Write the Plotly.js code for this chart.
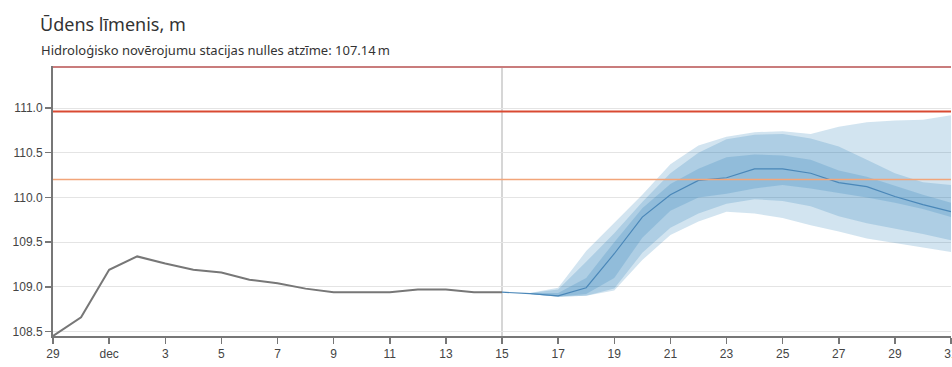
<!DOCTYPE html>
<html>
<head>
<meta charset="utf-8">
<script src="https://cdn.plot.ly/plotly-3.0.1.min.js"></script>
<style>html,body{margin:0;padding:0;background:#fff}#chart{width:952px;height:367px}</style>
</head>
<body>
<div id="chart"></div>
<script>
// Observed water level
const obsDates = ['2024-11-29','2024-11-30','2024-12-01','2024-12-02','2024-12-03','2024-12-04','2024-12-05','2024-12-06','2024-12-07','2024-12-08','2024-12-09','2024-12-10','2024-12-11','2024-12-12','2024-12-13','2024-12-14','2024-12-15'];
const obsValues = [108.45,108.66,109.19,109.34,109.26,109.19,109.16,109.08,109.04,108.98,108.94,108.94,108.94,108.97,108.97,108.94,108.94];

// Forecast median
const fcDates = ['2024-12-15','2024-12-16','2024-12-17','2024-12-18','2024-12-19','2024-12-20','2024-12-21','2024-12-22','2024-12-23','2024-12-24','2024-12-25','2024-12-26','2024-12-27','2024-12-28','2024-12-29','2024-12-30','2024-12-31'];
const fcValues = [108.94,108.925,108.90,108.99,109.37,109.78,110.03,110.19,110.22,110.32,110.32,110.27,110.165,110.12,110.01,109.92,109.84];

// Forecast uncertainty bands (from Dec 16)
const bandDates = ['2024-12-16','2024-12-17','2024-12-18','2024-12-19','2024-12-20','2024-12-21','2024-12-22','2024-12-23','2024-12-24','2024-12-25','2024-12-26','2024-12-27','2024-12-28','2024-12-29','2024-12-30','2024-12-31'];
const outerUpper = [108.93,108.99,109.40,109.72,110.03,110.37,110.58,110.68,110.73,110.74,110.71,110.79,110.84,110.86,110.87,110.92];
const outerLower = [108.92,108.89,108.90,108.96,109.30,109.58,109.73,109.84,109.82,109.77,109.69,109.62,109.54,109.49,109.44,109.39];
const midUpper   = [108.93,108.97,109.28,109.60,109.95,110.27,110.50,110.65,110.70,110.71,110.66,110.57,110.42,110.27,110.17,110.14];
const midLower   = [108.92,108.89,108.90,108.98,109.38,109.66,109.82,109.93,109.98,109.96,109.90,109.79,109.71,109.65,109.59,109.52];
const innerUpper = [108.93,108.93,109.10,109.50,109.88,110.15,110.32,110.45,110.48,110.47,110.42,110.30,110.23,110.13,110.03,109.94];
const innerLower = [108.92,108.89,108.92,109.10,109.55,109.85,110.00,110.04,110.10,110.14,110.10,110.05,110.00,109.94,109.87,109.78];

// Threshold levels
const thresholdLevels = [111.46, 110.96, 110.20];
const thresholdColors = ['#c97c7c', '#d94a32', '#f2a57a'];
const thresholdWidths = [2, 2, 1.5];
const todayDate = '2024-12-15';

// Axis ticks
const xTickVals = ['2024-11-29','2024-12-01','2024-12-03','2024-12-05','2024-12-07','2024-12-09','2024-12-11','2024-12-13','2024-12-15','2024-12-17','2024-12-19','2024-12-21','2024-12-23','2024-12-25','2024-12-27','2024-12-29','2024-12-31'];
const xTickText = ['29','dec','3','5','7','9','11','13','15','17','19','21','23','25','27','29','31'];
const yTickVals = [108.5,109.0,109.5,110.0,110.5,111.0];

const bandFill = 'rgba(31,119,180,0.2)';
const traces = [];
[[outerLower, outerUpper],[midLower, midUpper],[innerLower, innerUpper]].forEach(([lo, up]) => {
  traces.push({x: bandDates, y: lo, type: 'scatter', mode: 'lines', line: {width: 0, color: 'rgba(0,0,0,0)'}, hoverinfo: 'skip', showlegend: false});
  traces.push({x: bandDates, y: up, type: 'scatter', mode: 'lines', fill: 'tonexty', fillcolor: bandFill, line: {width: 0, color: 'rgba(0,0,0,0)'}, hoverinfo: 'skip', showlegend: false});
});
traces.push({x: obsDates, y: obsValues, type: 'scatter', mode: 'lines', line: {color: '#777777', width: 2}, showlegend: false});
traces.push({x: fcDates, y: fcValues, type: 'scatter', mode: 'lines', line: {color: '#4a87b8', width: 1.2}, showlegend: false});

const shapes = thresholdLevels.map((v, i) => ({
  type: 'line', xref: 'paper', x0: 0, x1: 1, yref: 'y', y0: v, y1: v,
  line: {color: thresholdColors[i], width: thresholdWidths[i]}, layer: 'above'
}));
shapes.push({type: 'line', xref: 'x', x0: todayDate, x1: todayDate, yref: 'paper', y0: 0, y1: 1, line: {color: '#c8c8c8', width: 1.5}, layer: 'below'});

const layout = {
  width: 952, height: 367,
  margin: {l: 53, r: 1, t: 66, b: 31},
  paper_bgcolor: '#ffffff', plot_bgcolor: '#ffffff',
  font: {family: 'Liberation Sans, Arial, sans-serif', size: 12, color: '#444'},
  title: {text: 'Ūdens līmenis, m', x: 40/952, xanchor: 'left', xref: 'container', y: 1 - 25/367, yanchor: 'middle', yref: 'container',
          font: {family: 'Noto Sans, sans-serif', size: 18, color: '#333'}},
  annotations: [{text: 'Hidroloģisko novērojumu stacijas nulles atzīme: 107.14\u2009m', xref: 'paper', yref: 'paper',
                 x: (39-53)/898, y: (336-50)/270, xanchor: 'left', yanchor: 'middle', showarrow: false,
                 font: {family: 'Noto Sans, sans-serif', size: 13, color: '#333'}}],
  xaxis: {type: 'date', range: ['2024-11-29', '2024-12-31'], tickvals: xTickVals, ticktext: xTickText,
          showgrid: false, zeroline: false, showline: true, linecolor: '#777', linewidth: 2, ticklabeloverflow: 'allow',
          ticks: 'outside', ticklen: 6, tickwidth: 1.5, tickcolor: '#777', tickfont: {size: 12, color: '#444'}, fixedrange: true},
  yaxis: {range: [108.45, 111.47], tickvals: yTickVals, tickformat: '.1f', showgrid: true, gridcolor: '#e4e4e4', gridwidth: 1,
          zeroline: false, showline: true, linecolor: '#777', linewidth: 2, ticks: 'outside', ticklen: 6, tickwidth: 1.5, tickcolor: '#777',
          tickfont: {size: 12, color: '#444'}, fixedrange: true},
  shapes: shapes,
  showlegend: false
};
Plotly.newPlot('chart', traces, layout, {displayModeBar: false, staticPlot: true});
</script>
</body>
</html>
